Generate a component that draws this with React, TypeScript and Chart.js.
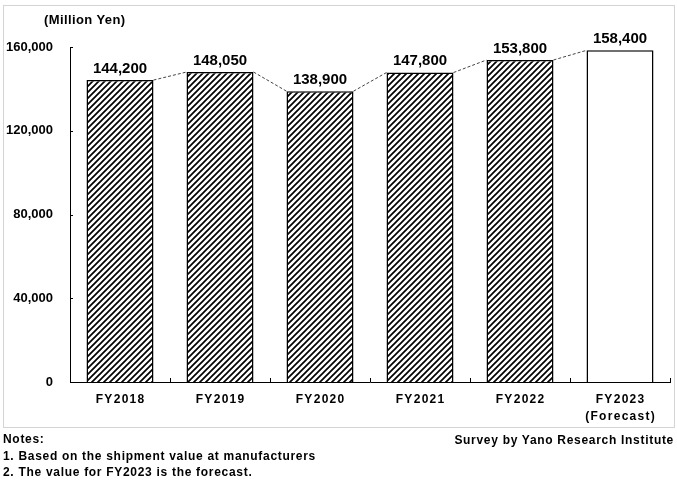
import React, { useEffect, useRef } from "react";
import { Chart, registerables } from "chart.js";

Chart.register(...registerables);

const categories: string[][] = [["FY2018"], ["FY2019"], ["FY2020"], ["FY2021"], ["FY2022"], ["FY2023", "(Forecast)"]];
const values: number[] = [144200, 148050, 138900, 147800, 153800, 158400];
const forecastFlags: boolean[] = [false, false, false, false, false, true];
const yTicks: number[] = [0, 40000, 80000, 120000, 160000];
const unitLabel = "(Million Yen)";
const notes: string[] = ["Notes:", "1. Based on the shipment value at manufacturers", "2. The value for FY2023 is the forecast."];
const source = "Survey by Yano Research Institute";

const FONT = "'Liberation Sans', Arial, sans-serif";

function makeHatch(): CanvasPattern | string {
  const c = document.createElement("canvas");
  const s = 6;
  c.width = s;
  c.height = s;
  const g = c.getContext("2d");
  if (!g) return "#000";
  g.fillStyle = "#fff";
  g.fillRect(0, 0, s, s);
  g.strokeStyle = "#000";
  g.lineWidth = 1.7;
  g.beginPath();
  g.moveTo(-1, s + 1);
  g.lineTo(s + 1, -1);
  g.moveTo(-1, 1);
  g.lineTo(1, -1);
  g.moveTo(s - 1, s + 1);
  g.lineTo(s + 1, s - 1);
  g.stroke();
  const p = g.createPattern(c, "repeat");
  return p || "#000";
}

const decorPlugin = {
  id: "decor",
  beforeDraw(chart: any) {
    const ctx = chart.ctx;
    ctx.save();
    ctx.strokeStyle = "#d4d4d4";
    ctx.lineWidth = 1;
    ctx.strokeRect(3.5, 5.5, 671, 422);
    ctx.restore();
  },
  afterDatasetsDraw(chart: any) {
    const ctx = chart.ctx;
    const meta = chart.getDatasetMeta(0);
    const area = chart.chartArea;
    const xs = chart.scales.x;
    const ys = chart.scales.y;
    ctx.save();
    // connectors
    ctx.strokeStyle = "#444";
    ctx.lineWidth = 1;
    ctx.setLineDash([3, 2]);
    for (let i = 0; i < meta.data.length - 1; i++) {
      const a = meta.data[i];
      const b = meta.data[i + 1];
      ctx.beginPath();
      ctx.moveTo(a.x + a.width / 2, a.y);
      ctx.lineTo(b.x - b.width / 2, b.y);
      ctx.stroke();
    }
    ctx.setLineDash([]);
    // y ticks inside
    ctx.strokeStyle = "#000";
    ctx.lineWidth = 1;
    yTicks.forEach((v) => {
      const y = Math.round(ys.getPixelForValue(v)) + 0.5;
      ctx.beginPath();
      ctx.moveTo(area.left, y);
      ctx.lineTo(area.left + 3, y);
      ctx.stroke();
    });
    // x boundary ticks
    const n = categories.length;
    const w = (area.right - area.left) / n;
    for (let i = 1; i <= n; i++) {
      const x = Math.round(area.left + i * w) + 0.5;
      ctx.beginPath();
      ctx.moveTo(x, area.bottom);
      ctx.lineTo(x, area.bottom - 4);
      ctx.stroke();
    }
    // category labels
    ctx.fillStyle = "#000";
    ctx.font = `bold 12px ${FONT}`;
    ctx.textAlign = "center";
    ctx.textBaseline = "middle";
    try {
      (ctx as any).letterSpacing = "1.3px";
    } catch (e) {}
    categories.forEach((lines, i) => {
      const x = xs.getPixelForValue(i);
      lines.forEach((t, j) => {
        ctx.fillText(t, x + 0.65, area.bottom + 18 + j * 17);
      });
    });
    try {
      (ctx as any).letterSpacing = "0px";
    } catch (e) {}
    // value labels
    ctx.font = `bold 15px ${FONT}`;
    ctx.textAlign = "center";
    ctx.textBaseline = "bottom";
    meta.data.forEach((bar: any, i: number) => {
      ctx.fillText(values[i].toLocaleString("en-US"), bar.x, bar.y - 4);
    });
    ctx.restore();
  },
};

export default function App() {
  const ref = useRef<HTMLCanvasElement>(null);
  useEffect(() => {
    document.body.style.margin = "0";
    const canvas = ref.current;
    if (!canvas) return;
    const hatch = makeHatch();
    const chart = new Chart(canvas, {
      type: "bar",
      data: {
        labels: categories.map((c) => c.join(" ")),
        datasets: [
          {
            data: values,
            backgroundColor: forecastFlags.map((f) => (f ? "#ffffff" : hatch)) as any,
            borderColor: "#000",
            borderWidth: 1.5,
            barPercentage: 0.67,
            categoryPercentage: 1,
          },
        ],
      },
      options: {
        responsive: false,
        animation: false,
        devicePixelRatio: 1,
        layout: { padding: { top: 47, right: 7, left: 0, bottom: 0 } },
        plugins: { legend: { display: false }, tooltip: { enabled: false } },
        scales: {
          x: {
            grid: { display: false, drawTicks: false },
            border: { display: true, color: "#000", width: 1 },
            ticks: { display: false },
            afterFit: (s: any) => {
              s.height = 99;
            },
          },
          y: {
            min: 0,
            max: 160000,
            afterBuildTicks: (s: any) => {
              s.ticks = yTicks.map((v) => ({ value: v }));
            },
            grid: { display: false, drawTicks: false },
            border: { display: true, color: "#000", width: 1 },
            ticks: {
              color: "#000",
              font: { family: FONT, size: 13, weight: "bold" },
              padding: 17,
              callback: (v: any) => Number(v).toLocaleString("en-US"),
            },
            afterFit: (s: any) => {
              s.width = 70;
            },
          },
        },
      },
      plugins: [decorPlugin],
    });
    return () => chart.destroy();
  }, []);

  const textStyle: React.CSSProperties = {
    position: "absolute",
    fontFamily: FONT,
    fontWeight: "bold",
    fontSize: 12,
    color: "#000",
    whiteSpace: "nowrap",
    lineHeight: "16px",
    letterSpacing: "0.7px",
  };

  return (
    <div style={{ position: "absolute", left: 0, top: 0, width: 677, height: 481, background: "#fff" }}>
      <canvas ref={ref} width={677} height={481} style={{ position: "absolute", left: 0, top: 0 }} />
      <div style={{ ...textStyle, left: 44, top: 12, fontSize: 13, letterSpacing: "0.4px" }}>{unitLabel}</div>
      {notes.map((t, i) => (
        <div key={i} style={{ ...textStyle, left: 3, top: 431 + i * 16.5 }}>
          {t}
        </div>
      ))}
      <div style={{ ...textStyle, right: 3, top: 432 }}>{source}</div>
    </div>
  );
}
